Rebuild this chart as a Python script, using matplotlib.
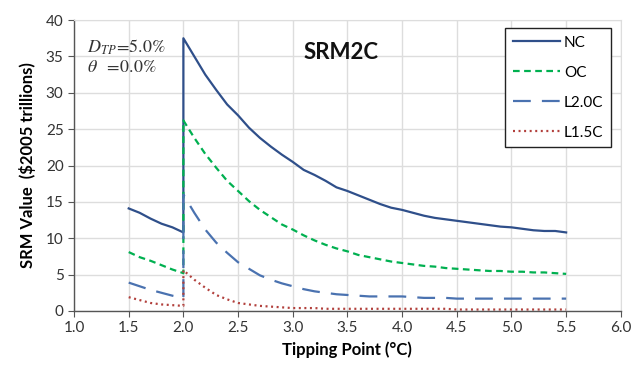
#!/usr/bin/env python3
"""SRM value versus tipping point temperature for four climate policies."""

import matplotlib
matplotlib.use("Agg")
import matplotlib.pyplot as plt

# x positions: two values at 2.0 (before and after the tipping jump)
tp = [1.5, 1.6, 1.7, 1.8, 1.9, 2.0,
      2.0, 2.1, 2.2, 2.3, 2.4, 2.5, 2.6, 2.7, 2.8, 2.9, 3.0,
      3.1, 3.2, 3.3, 3.4, 3.5, 3.6, 3.7, 3.8, 3.9, 4.0,
      4.1, 4.2, 4.3, 4.4, 4.5, 4.6, 4.7, 4.8, 4.9, 5.0,
      5.1, 5.2, 5.3, 5.4, 5.5]

nc = [14.1, 13.5, 12.7, 12.0, 11.5, 10.8,
      37.5, 35.0, 32.5, 30.4, 28.4, 26.9, 25.2, 23.8, 22.6, 21.5, 20.5,
      19.4, 18.7, 17.9, 17.0, 16.5, 15.9, 15.3, 14.7, 14.2, 13.9,
      13.5, 13.1, 12.8, 12.6, 12.4, 12.2, 12.0, 11.8, 11.6, 11.5,
      11.3, 11.1, 11.0, 11.0, 10.8]

oc = [8.1, 7.4, 6.9, 6.3, 5.7, 5.2,
      26.2, 23.8, 21.6, 19.7, 17.9, 16.5, 15.1, 13.9, 12.9, 11.9, 11.2,
      10.4, 9.7, 9.1, 8.6, 8.2, 7.7, 7.4, 7.1, 6.8, 6.6,
      6.4, 6.2, 6.1, 5.9, 5.8, 5.7, 5.6, 5.5, 5.5, 5.4,
      5.4, 5.3, 5.3, 5.2, 5.1]

l20c = [3.9, 3.4, 2.9, 2.5, 2.1, 1.8,
        16.0, 13.5, 11.2, 9.4, 8.0, 6.7, 5.8, 4.9, 4.3, 3.8, 3.4,
        3.0, 2.7, 2.5, 2.3, 2.2, 2.1, 2.0, 2.0, 2.0, 2.0,
        1.9, 1.8, 1.8, 1.8, 1.7, 1.7, 1.7, 1.7, 1.7, 1.7,
        1.7, 1.7, 1.7, 1.7, 1.7]

l15c = [1.9, 1.5, 1.1, 0.9, 0.8, 0.7,
        5.6, 4.3, 3.2, 2.2, 1.6, 1.1, 0.9, 0.7, 0.6, 0.5, 0.4,
        0.4, 0.4, 0.3, 0.3, 0.3, 0.3, 0.3, 0.3, 0.3, 0.3,
        0.3, 0.3, 0.3, 0.3, 0.2, 0.2, 0.2, 0.2, 0.2, 0.2,
        0.2, 0.2, 0.2, 0.2, 0.2]

x_ticks = [1.0, 1.5, 2.0, 2.5, 3.0, 3.5, 4.0, 4.5, 5.0, 5.5, 6.0]
y_ticks = [0, 5, 10, 15, 20, 25, 30, 35, 40]

plt.rcParams["font.family"] = ["Lato", "DejaVu Sans"]
plt.rcParams["mathtext.fontset"] = "stix"

fig, ax = plt.subplots(figsize=(6.42, 3.65), dpi=100)
fig.subplots_adjust(left=0.1153, right=0.967, top=0.945, bottom=0.148)

ax.plot(tp, nc, color="#2F4F8A", lw=1.6, label="NC")
ax.plot(tp, oc, color="#00B050", lw=1.6, dashes=(3, 2), label="OC")
ax.plot(tp, l20c, color="#4A72B0", lw=1.6, dashes=(8, 5), label="L2.0C")
ax.plot(tp, l15c, color="#B2403C", lw=1.6, dashes=(0.9, 1.6), label="L1.5C")

ax.set_xlim(1.0, 6.0)
ax.set_ylim(0, 40)
ax.set_xticks(x_ticks, [f"{v:.1f}" for v in x_ticks])
ax.set_yticks(y_ticks)
ax.grid(color="#DDDDDD", lw=1.0)
ax.set_axisbelow(True)
for side in ["top", "right"]:
    ax.spines[side].set_color("#DDDDDD")
for side in ["left", "bottom"]:
    ax.spines[side].set_color("#555555")
    ax.spines[side].set_linewidth(1.0)
ax.tick_params(axis="both", labelsize=11, color="#555555", length=4, labelcolor="#333333")

ax.set_xlabel("Tipping Point (°C)", fontsize=12, fontweight="bold", labelpad=4)
ax.set_ylabel("SRM Value  ($2005 trillions)", fontsize=12, fontweight="bold", labelpad=7)

ax.text(0.488, 0.89, "SRM2C", transform=ax.transAxes, fontsize=16,
        fontweight="bold", ha="center", va="center", color="#111111")
ax.text(0.024, 0.905, r"$D_{TP}\!=\!5.0\%$", transform=ax.transAxes,
        fontsize=13, color="#333333", va="center")
ax.text(0.024, 0.838, r"$\theta\ \ =\!0.0\%$", transform=ax.transAxes,
        fontsize=13, color="#333333", va="center")

leg = ax.legend(loc="upper right", bbox_to_anchor=(0.982, 0.9725), fontsize=11,
                handlelength=3.1, labelspacing=1.05, borderpad=0.5,
                handletextpad=0.25, borderaxespad=0, fancybox=False, framealpha=1)
leg.get_frame().set_edgecolor("#222222")
leg.get_frame().set_linewidth(1.0)

fig.savefig("out.png", dpi=100, facecolor="white")
